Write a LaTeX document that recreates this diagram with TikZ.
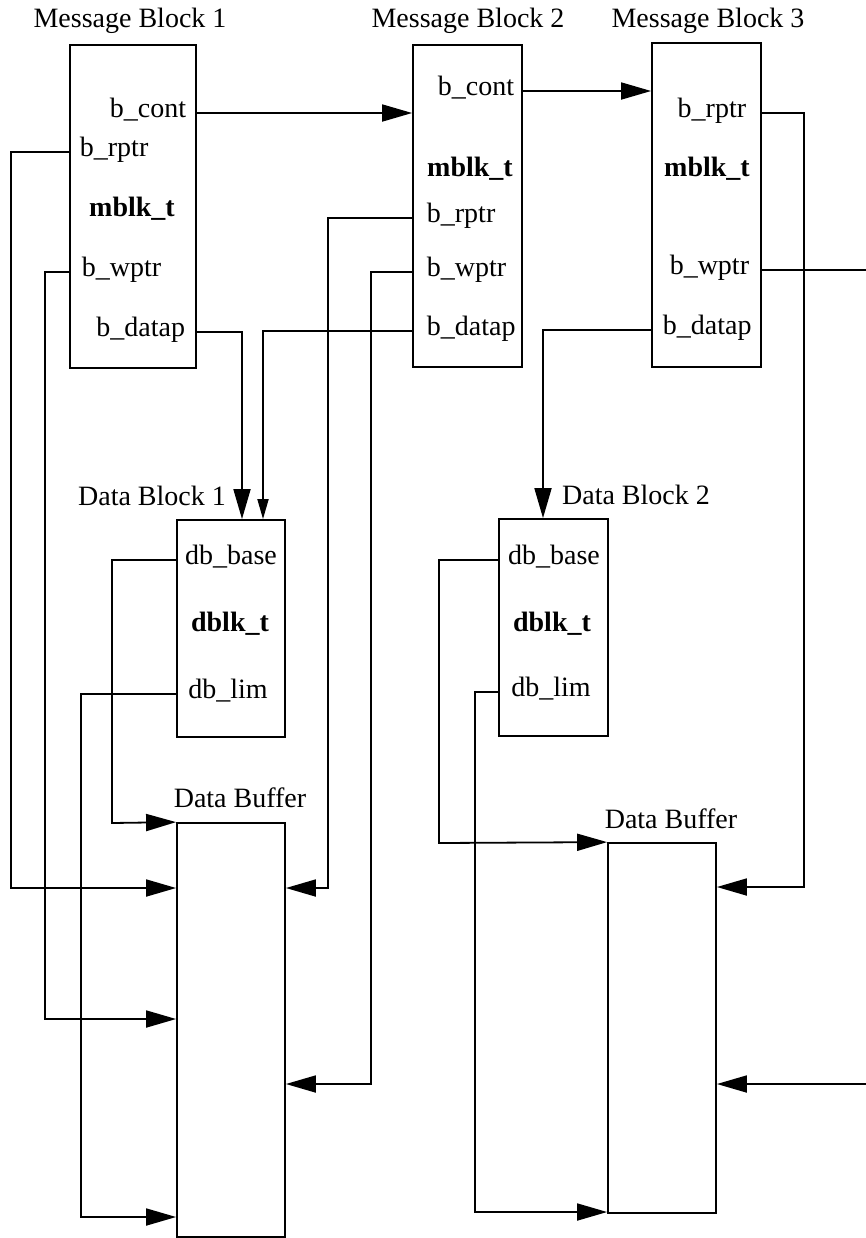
\documentclass[tikz,border=0pt]{standalone}
\usepackage{fontspec}
\setmainfont{Liberation Serif}
\usetikzlibrary{arrows.meta}

\begin{document}
\begin{tikzpicture}[
    x=0.5pt, y=-0.5pt,
    line width=0.9pt,
    font=\fontsize{14}{16}\selectfont,
    blk/.style={draw, rectangle, inner sep=0pt},
    fld/.style={inner sep=0pt},
    ttl/.style={inner sep=0pt, anchor=base},
    ptr/.style={-{Triangle[length=15pt,width=8.5pt]}},
    smallptr/.style={-{Triangle[length=10pt,width=5.5pt]}}
  ]
    \useasboundingbox (0,0) rectangle (866,1238);

    \node[blk, minimum width=63pt, minimum height=161.5pt] (mb1) at (133,206.5) {};
    \node[blk, minimum width=54.5pt, minimum height=161pt] (mb2) at (467.5,206) {};
    \node[blk, minimum width=54.5pt, minimum height=162pt] (mb3) at (706.5,205) {};
    \node[blk, minimum width=54pt, minimum height=108.5pt] (db1) at (231,628.5) {};
    \node[blk, minimum width=54.5pt, minimum height=108.5pt] (db2) at (553.5,627.5) {};
    \node[blk, minimum width=54pt, minimum height=207pt] (buf1) at (231,1030) {};
    \node[blk, minimum width=54pt, minimum height=185pt] (buf2) at (662,1028) {};

    \node[ttl] (mb1t) at (130,27) {Message Block 1};
    \node[ttl] (mb2t) at (468,27) {Message Block 2};
    \node[ttl] (mb3t) at (708,27) {Message Block 3};
    \node[ttl] (db1t) at (152,505) {Data Block 1};
    \node[ttl] (db2t) at (636,504) {Data Block 2};
    \node[ttl] (buf1t) at (240,807) {Data Buffer};
    \node[ttl] (buf2t) at (671,828) {Data Buffer};

    \node[fld, anchor=mid east] (c1) at (187,113) {b\_cont};
    \node[fld, anchor=mid west] (r1) at (79,152) {b\_rptr};
    \node[fld, anchor=mid] (m1) at (132,212) {\bfseries mblk\_t};
    \node[fld, anchor=mid west] (w1) at (81,272) {b\_wptr};
    \node[fld, anchor=mid east] (d1) at (186,332) {b\_datap};

    \node[fld, anchor=mid west] (c2) at (437,91) {b\_cont};
    \node[fld, anchor=mid] (m2) at (470,172) {\bfseries mblk\_t};
    \node[fld, anchor=mid west] (r2) at (426,218) {b\_rptr};
    \node[fld, anchor=mid west] (w2) at (426,272) {b\_wptr};
    \node[fld, anchor=mid west] (d2) at (426,331) {b\_datap};

    \node[fld, anchor=mid east] (r3) at (747,113) {b\_rptr};
    \node[fld, anchor=mid] (m3) at (707,172) {\bfseries mblk\_t};
    \node[fld, anchor=mid east] (w3) at (750,270) {b\_wptr};
    \node[fld, anchor=mid west] (d3) at (662,330) {b\_datap};

    \node[fld, anchor=mid] (b1) at (231,560) {db\_base};
    \node[fld, anchor=mid] (k1) at (230,627) {\bfseries dblk\_t};
    \node[fld, anchor=mid] (l1) at (228,694) {db\_lim};

    \node[fld, anchor=mid] (b2) at (554,560) {db\_base};
    \node[fld, anchor=mid] (k2) at (552,627) {\bfseries dblk\_t};
    \node[fld, anchor=mid] (l2) at (551,692) {db\_lim};

    \draw[ptr] (mb1.east |- c1.mid) -- (mb2.west |- c1.mid);
    \draw[ptr] (mb2.east |- c2.mid) -- (mb3.west |- c2.mid);

    \draw[ptr] (mb1.west |- r1.mid) -| (11,888) -- (buf1.west |- 11,888);
    \draw[ptr] (mb1.west |- w1.mid) -| (45,1019) -- (buf1.west |- 45,1019);
    \draw[ptr] (mb1.east |- d1.mid) -| (db1.north -| 242,0);

    \draw[ptr] (mb2.west |- r2.mid) -| (328,888) -- (buf1.east |- 328,888);
    \draw[ptr] (mb2.west |- w2.mid) -| (371,1084) -- (buf1.east |- 371,1084);
    \draw[smallptr] (mb2.west |- d2.mid) -| (db1.north -| 263,0);

    \draw[ptr] (mb3.east |- r3.mid) -| (804,887) -- (buf2.east |- 804,887);
    \draw[ptr] (mb3.east |- w3.mid) -| (872,1084) -- (buf2.east |- 872,1084);
    \draw[ptr] (mb3.west |- d3.mid) -| (db2.north -| 543,0);

    \draw[ptr] (db1.west |- b1.mid) -| (112,823) -- (buf1.north west);
    \draw[ptr] (db1.west |- l1.mid) -| (81,1217) -- (buf1.west |- 81,1217);
    \draw[ptr] (db2.west |- b2.mid) -| (439,843) -- (buf2.north west);
    \draw[ptr] (db2.west |- l2.mid) -| (475,1212) -- (buf2.west |- 475,1212);
  \end{tikzpicture}
\end{document}
